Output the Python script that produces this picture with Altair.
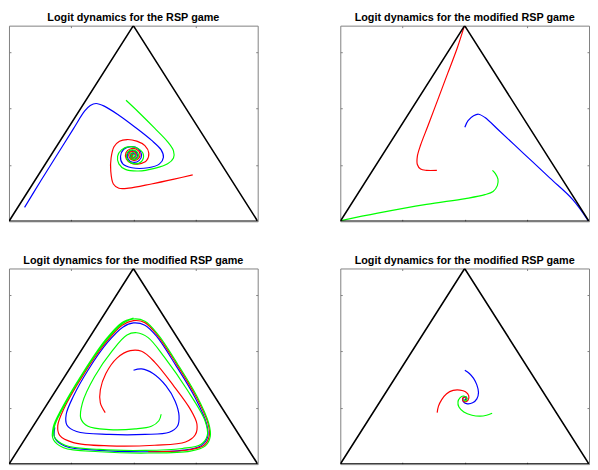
import altair as alt
import pandas as pd

TITLES = [
    "Logit dynamics for the RSP game",
    "Logit dynamics for the modified RSP game",
    "Logit dynamics for the modified RSP game",
    "Logit dynamics for the modified RSP game",
]
SERIES = ["red", "green", "blue"]
COLORS = ["#ff0000", "#00ff00", "#0000ff"]

TRI_X = [0.0, 0.5, 1.0, 0.0]
TRI_Y = [0.0, 0.866, 0.0, 0.0]
TICKS = [0.25, 0.5, 0.75]

# ---------- panel 1 ----------
P1_BLUE_X = [0.0627, 0.128, 0.1935, 0.2588, 0.3046, 0.3268, 0.3503, 0.383, 0.4418, 0.5072,
             0.5725, 0.6118, 0.6209, 0.6052, 0.5595, 0.4941, 0.4575, 0.4484, 0.4614, 0.4915,
             0.5203, 0.5333, 0.5229, 0.498, 0.4784, 0.4784, 0.4967, 0.5137, 0.515, 0.5007,
             0.4889, 0.4928, 0.5046, 0.5072, 0.4993, 0.4954, 0.5007]
P1_BLUE_Y = [0.0618, 0.1795, 0.2944, 0.4093, 0.4883, 0.5127, 0.5213, 0.5099, 0.4696, 0.4165,
             0.3591, 0.316, 0.2829, 0.2542, 0.237, 0.237, 0.2542, 0.2872, 0.3188, 0.3303,
             0.3203, 0.2944, 0.2686, 0.2614, 0.2772, 0.3016, 0.3131, 0.3016, 0.2829, 0.2743,
             0.2858, 0.3002, 0.2987, 0.2872, 0.2829, 0.2915, 0.2930]
P1_GREEN_X = [0.4706, 0.5203, 0.5856, 0.6379, 0.6614, 0.6614, 0.6379, 0.5856, 0.5203, 0.468,
              0.4418, 0.4366, 0.4523, 0.4837, 0.517, 0.5399, 0.5333, 0.5072, 0.481, 0.4719,
              0.4837, 0.5072, 0.5203, 0.5111, 0.4928, 0.4863, 0.498, 0.5085, 0.502, 0.4941, 0.5007]
P1_GREEN_Y = [0.5357, 0.484, 0.4122, 0.3519, 0.3117, 0.2801, 0.2542, 0.2341, 0.2226, 0.2298,
              0.2542, 0.2872, 0.316, 0.3303, 0.3231, 0.2973, 0.2657, 0.2542, 0.2657, 0.2915,
              0.3117, 0.3131, 0.2944, 0.2757, 0.2772, 0.2944, 0.3045, 0.2944, 0.2829, 0.2901, 0.2944]
P1_RED_X = [0.7386, 0.664, 0.5725, 0.481, 0.4418, 0.4196, 0.4092, 0.4105, 0.4222, 0.4444,
            0.4745, 0.5137, 0.5464, 0.5621, 0.5529, 0.5229, 0.4915, 0.4719, 0.4706, 0.4876,
            0.5124, 0.5268, 0.5203, 0.5007, 0.4837, 0.4837, 0.4993, 0.5111, 0.5072, 0.4954,
            0.4928, 0.5007]
P1_RED_Y = [0.2054, 0.1867, 0.1652, 0.1465, 0.1465, 0.1652, 0.2226, 0.2801, 0.3303, 0.3547,
            0.3619, 0.3547, 0.3346, 0.3016, 0.2686, 0.2542, 0.2571, 0.2757, 0.3045, 0.3203,
            0.3188, 0.2987, 0.2772, 0.27, 0.2829, 0.3016, 0.3088, 0.2973, 0.2829, 0.2815,
            0.2944, 0.2958]

# ---------- panel 2 ----------
P2_RED_X = [0.498, 0.4706, 0.4314, 0.3922, 0.3529, 0.3229, 0.3098, 0.3098, 0.3229, 0.3464, 0.3882]
P2_RED_Y = [0.8617, 0.7684, 0.6535, 0.5386, 0.4237, 0.3375, 0.2872, 0.2513, 0.2312, 0.2255, 0.2255]
P2_BLUE_X = [0.5007, 0.5137, 0.5359, 0.5556, 0.5817, 0.634, 0.7386, 0.8431, 0.9346, 0.997]
P2_BLUE_Y = [0.4165, 0.4452, 0.4668, 0.474, 0.4596, 0.4064, 0.2987, 0.191, 0.0962, 0.002]
P2_GREEN_X = [0.0026, 0.1503, 0.3464, 0.5033, 0.5817, 0.6144, 0.6314, 0.634, 0.6235, 0.6118]
P2_GREEN_Y = [0.0029, 0.0359, 0.0747, 0.1005, 0.1178, 0.1321, 0.158, 0.1867, 0.2111, 0.2255]

# ---------- panel 3 ----------
P3_BLUE_X = [0.5007, 0.5333, 0.5791, 0.6314, 0.668, 0.6837, 0.6771, 0.6444, 0.5464, 0.4026,
             0.2719, 0.2327, 0.2301, 0.2588, 0.3176, 0.3961, 0.4575, 0.5007, 0.5464, 0.5922,
             0.6706, 0.749, 0.7948, 0.7987, 0.7712, 0.7033, 0.5464, 0.3634, 0.2261, 0.1843, 0.1843]
P3_BLUE_Y = [0.4157, 0.4214, 0.4012, 0.3464, 0.2786, 0.2136, 0.1674, 0.1414, 0.1313, 0.1313,
             0.1443, 0.1732, 0.2208, 0.3002, 0.4157, 0.5384, 0.6062, 0.6249, 0.6148, 0.5672,
             0.4373, 0.293, 0.1775, 0.1198, 0.0808, 0.0621, 0.0548, 0.0606, 0.0794, 0.1155, 0.1631]
P3_RED_X = [0.3869, 0.3673, 0.3673, 0.3895, 0.4353, 0.4876, 0.5333, 0.5856, 0.6641, 0.7294,
            0.7556, 0.749, 0.7098, 0.5856, 0.4026, 0.2588, 0.2039, 0.1961, 0.2196, 0.298,
            0.3895, 0.4549, 0.5007, 0.5464, 0.5961, 0.6745, 0.7529, 0.8, 0.8052, 0.7843,
            0.7268, 0.5595]
P3_RED_Y = [0.228, 0.2713, 0.3291, 0.4012, 0.4705, 0.5023, 0.4994, 0.4518, 0.3435, 0.2425,
            0.1775, 0.1299, 0.0981, 0.0837, 0.0808, 0.0953, 0.127, 0.1703, 0.2425, 0.394,
            0.5384, 0.6148, 0.6351, 0.6264, 0.5715, 0.4416, 0.2973, 0.1819, 0.1241, 0.0837,
            0.0635, 0.0548]
P3_GREEN_X = [0.6118, 0.6026, 0.5725, 0.5072, 0.4026, 0.3176, 0.2889, 0.2954, 0.3438, 0.4157,
              0.4745, 0.5137, 0.5595, 0.6248, 0.7163, 0.7882, 0.7974, 0.7712, 0.6967, 0.5464,
              0.3634, 0.2261, 0.183, 0.183, 0.2157, 0.298, 0.3895, 0.4549, 0.5007, 0.5464,
              0.5987, 0.6771, 0.7556, 0.8026, 0.8092, 0.7895, 0.7294, 0.5595, 0.3634, 0.2196,
              0.1778, 0.1778, 0.2105, 0.2954, 0.3869, 0.4523, 0.5007]
P3_GREEN_Y = [0.2208, 0.192, 0.1674, 0.1559, 0.153, 0.1674, 0.2021, 0.2713, 0.3868, 0.5023,
              0.5715, 0.5816, 0.56, 0.4734, 0.3291, 0.192, 0.127, 0.0866, 0.0693, 0.0606,
              0.0649, 0.0837, 0.1198, 0.1674, 0.2454, 0.4012, 0.5456, 0.6206, 0.6423, 0.6322,
              0.5744, 0.4445, 0.3002, 0.1819, 0.1227, 0.0808, 0.0577, 0.0491, 0.0548, 0.0722,
              0.1097, 0.1631, 0.2425, 0.4012, 0.5485, 0.6249, 0.6466]

# ---------- panel 4 ----------
P4_BLUE_X = [0.5007, 0.519, 0.5359, 0.549, 0.5556, 0.549, 0.532, 0.5111, 0.4954, 0.4928,
             0.5007, 0.5085, 0.5059, 0.4993]
P4_BLUE_Y = [0.4157, 0.4012, 0.3796, 0.3507, 0.3175, 0.2887, 0.2713, 0.267, 0.2757, 0.2901,
             0.2988, 0.2944, 0.2858, 0.2872]
P4_RED_X = [0.3895, 0.3948, 0.4078, 0.4275, 0.4536, 0.481, 0.5033, 0.5163, 0.5137, 0.5007,
            0.4915, 0.4954, 0.5033, 0.5046]
P4_RED_Y = [0.228, 0.2569, 0.2858, 0.3118, 0.3262, 0.3276, 0.3204, 0.3031, 0.2829, 0.2757,
            0.2858, 0.2959, 0.2944, 0.2872]
P4_GREEN_X = [0.6105, 0.5882, 0.5621, 0.5294, 0.4967, 0.4771, 0.4732, 0.481, 0.4941, 0.5072,
              0.5085, 0.5007, 0.4954]
P4_GREEN_Y = [0.2252, 0.2165, 0.2122, 0.2165, 0.2309, 0.2526, 0.2757, 0.293, 0.3016, 0.2959,
              0.2843, 0.28, 0.2872]

PANELS = [
    [("blue", P1_BLUE_X, P1_BLUE_Y), ("red", P1_RED_X, P1_RED_Y), ("green", P1_GREEN_X, P1_GREEN_Y)],
    [("blue", P2_BLUE_X, P2_BLUE_Y), ("red", P2_RED_X, P2_RED_Y), ("green", P2_GREEN_X, P2_GREEN_Y)],
    [("blue", P3_BLUE_X, P3_BLUE_Y), ("red", P3_RED_X, P3_RED_Y), ("green", P3_GREEN_X, P3_GREEN_Y)],
    [("blue", P4_BLUE_X, P4_BLUE_Y), ("red", P4_RED_X, P4_RED_Y), ("green", P4_GREEN_X, P4_GREEN_Y)],
]

W, H = 253, 199
BOX = "#808080"


def panel(title, curves):
    rows = []
    for name, xs, ys in curves:
        for i, (x, y) in enumerate(zip(xs, ys)):
            rows.append({"s": name, "i": i, "x": x, "y": y})
    df = pd.DataFrame(rows)
    tri = pd.DataFrame({"i": list(range(len(TRI_X))), "x": TRI_X, "y": TRI_Y})
    xsc = alt.Scale(domain=[0, 1], nice=False, zero=False)
    ysc = alt.Scale(domain=[0, 0.866], nice=False, zero=False)
    ax = dict(labels=False, domain=False, grid=False, ticks=True, tickSize=2,
              tickColor=BOX, tickWidth=1, offset=-2, values=TICKS, title=None)
    curves_layer = alt.Chart(df).mark_line(strokeWidth=1.2, interpolate="catmull-rom", clip=True).encode(
        x=alt.X("x:Q", scale=xsc, axis=alt.Axis(orient="top", **ax)),
        y=alt.Y("y:Q", scale=ysc, axis=alt.Axis(orient="right", **ax)),
        color=alt.Color("s:N", scale=alt.Scale(domain=SERIES, range=COLORS), legend=None),
        order=alt.Order("i:Q"),
    )
    tri_layer = alt.Chart(tri).mark_line(color="black", strokeWidth=1.6, clip=True).encode(
        x=alt.X("x:Q", scale=xsc, axis=alt.Axis(orient="bottom", **ax)),
        y=alt.Y("y:Q", scale=ysc, axis=alt.Axis(orient="left", **ax)),
        order=alt.Order("i:Q"),
    )
    return alt.layer(curves_layer, tri_layer).resolve_axis(x="independent", y="independent").properties(
        width=W, height=H,
        title=alt.TitleParams(title, fontSize=11, fontWeight="bold", font="Liberation Sans",
                              color="black", offset=2, anchor="middle"),
    )


p = [panel(t, c) for t, c in zip(TITLES, PANELS)]
chart = alt.vconcat(
    alt.hconcat(p[0], p[1], spacing=82),
    alt.hconcat(p[2], p[3], spacing=82),
    spacing=33,
).properties(padding=0).configure_view(stroke=BOX, strokeWidth=1)

chart.save("out.html", embed_options={"renderer": "svg", "actions": False})
